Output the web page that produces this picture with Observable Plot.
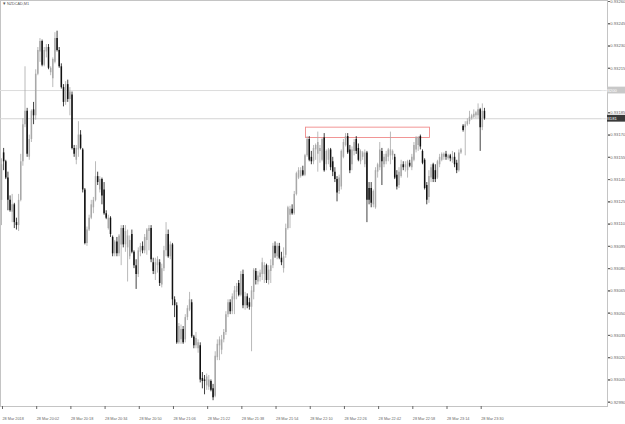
<!DOCTYPE html>
<html><head><meta charset="utf-8">
<script src="https://cdn.jsdelivr.net/npm/d3@7"></script>
<script src="https://cdn.jsdelivr.net/npm/@observablehq/plot@0.6"></script>
<style>
html,body{margin:0;padding:0;background:#fff;overflow:hidden}
#chart svg{display:block}
</style></head><body><div id="chart"></div>
<script>
const symbolTitle = "NZDCAD,M1";
const startTime = "2018-03-28T19:46:00Z"; // first M1 bar, one bar per minute
// prices in units of 0.00001
const openPts = [93126,93158,93152,93141,93126,93118,93123,93111,93109,93126,93152,93177,93186,93155,93167,93187,93183,93211,93226,93233,
93217,93226,93229,93212,93208,93219,93235,93227,93216,93202,93192,93204,93194,93197,93161,93153,93160,93170,93160,93133,
93097,93106,93114,93121,93126,93142,93133,93140,93133,93117,93107,93114,93101,93090,93098,93090,93096,93107,93096,93094,
93088,93103,93091,93082,93076,93091,93095,93092,93099,93105,93107,93084,93076,93082,93084,93069,93080,93092,93103,93088,
93096,93059,93055,93030,93032,93039,93032,93047,93052,93057,93034,93028,93026,93028,93006,93005,93001,93000,93004,92999,
92994,93020,93028,93025,93032,93037,93049,93057,93051,93059,93064,93070,93062,93076,93055,93061,93057,93054,93064,93078,
93071,93074,93076,93076,93082,93072,93078,93082,93095,93088,93095,93087,93080,93089,93107,93116,93120,93117,93130,93141,
93142,93146,93143,93156,93167,93155,93152,93160,93157,93159,93153,93168,93150,93153,93160,93152,93145,93140,93132,93135,
93155,93163,93169,93160,93150,93159,93167,93161,93152,93155,93150,93158,93134,93134,93123,93121,93145,93148,93159,93150,
93152,93155,93156,93156,93155,93143,93136,93142,93150,93148,93146,93151,93148,93153,93160,93163,93169,93159,93153,93136,
93128,93141,93150,93146,93141,93150,93153,93155,93157,93154,93156,93153,93155,93151,93146,93158,93176,93175,93177,93179,
93181,93182,93183,93183,93187,93175,93186];
const highPts = [93154,93161,93153,93145,93129,93130,93124,93114,93130,93157,93181,93216,93188,93170,93187,93192,93214,93229,93235,93234,
93229,93231,93231,93216,93222,93239,93240,93229,93218,93204,93206,93207,93202,93199,93163,93163,93179,93173,93161,93134,
93108,93116,93126,93128,93152,93145,93142,93141,93138,93119,93116,93115,93102,93099,93101,93103,93109,93109,93109,93106,
93102,93106,93092,93086,93094,93097,93098,93103,93107,93109,93109,93087,93087,93088,93086,93083,93095,93111,93106,93098,
93097,93061,93057,93043,93042,93041,93049,93055,93064,93059,93035,93037,93032,93030,93010,93008,93009,93008,93005,93002,
93024,93032,93034,93035,93039,93051,93059,93059,93063,93068,93070,93072,93078,93079,93064,93063,93060,93068,93080,93080,
93078,93079,93087,93084,93083,93082,93086,93097,93098,93097,93097,93091,93094,93110,93122,93122,93123,93132,93145,93148,
93148,93149,93157,93169,93169,93159,93163,93164,93172,93163,93168,93171,93160,93161,93161,93155,93148,93142,93143,93160,
93167,93171,93171,93163,93162,93167,93169,93164,93160,93159,93160,93159,93138,93138,93133,93148,93151,93165,93161,93157,
93159,93161,93172,93160,93157,93146,93148,93153,93152,93152,93153,93153,93157,93165,93169,93169,93170,93160,93154,93138,
93146,93150,93151,93150,93153,93157,93158,93158,93159,93157,93157,93159,93158,93153,93160,93161,93177,93179,93181,93186,
93184,93187,93186,93191,93188,93191,93188];
const lowPts = [93109,93146,93140,93119,93118,93111,93107,93106,93105,93125,93149,93175,93155,93153,93165,93177,93180,93210,93219,93216,
93216,93222,93214,93210,93202,93218,93226,93215,93201,93189,93190,93192,93183,93160,93155,93150,93155,93160,93131,93096,
93095,93105,93113,93117,93125,93136,93131,93123,93116,93113,93106,93101,93088,93088,93088,93088,93082,93094,93091,93071,
93086,93090,93080,93066,93074,93088,93090,93090,93089,93092,93084,93076,93072,93077,93068,93067,93078,93088,93087,93086,
93055,93047,93029,93029,93029,93029,93030,93045,93051,93033,93026,93026,93023,93003,92999,92995,92998,92998,92997,92991,
92993,93018,93018,93022,93030,93035,93047,93049,93049,93049,93059,93061,93061,93053,93052,93053,93052,93024,93059,93069,
93069,93071,93072,93070,93070,93069,93070,93080,93087,93086,93086,93082,93077,93087,93106,93107,93116,93116,93129,93140,
93141,93142,93142,93155,93152,93150,93150,93153,93145,93151,93152,93145,93146,93150,93146,93142,93138,93125,93130,93133,
93154,93162,93157,93144,93146,93156,93157,93152,93150,93153,93148,93111,93123,93121,93121,93120,93141,93146,93136,93148,
93150,93152,93150,93153,93140,93133,93134,93141,93146,93145,93141,93148,93146,93152,93158,93159,93160,93150,93133,93123,
93124,93138,93138,93138,93140,93148,93152,93153,93153,93153,93152,93151,93148,93144,93145,93157,93172,93156,93176,93177,
93180,93181,93181,93181,93159,93173,93180];
const closePts = [93150,93152,93141,93126,93119,93123,93111,93109,93126,93152,93177,93186,93157,93167,93186,93183,93211,93227,93233,93217,
93227,93229,93215,93215,93221,93235,93227,93216,93202,93192,93204,93194,93199,93161,93157,93161,93170,93161,93133,93097,
93106,93114,93123,93126,93142,93138,93140,93129,93117,93114,93114,93103,93090,93098,93090,93102,93107,93096,93105,93102,
93099,93091,93082,93076,93092,93095,93092,93101,93106,93107,93086,93078,93084,93086,93070,93080,93092,93103,93088,93096,
93059,93055,93030,93041,93039,93030,93047,93053,93059,93034,93028,93033,93030,93005,93004,93004,93007,93005,92998,92993,
93021,93029,93032,93032,93037,93049,93057,93051,93061,93065,93068,93062,93076,93055,93061,93055,93054,93065,93079,93072,
93075,93077,93084,93082,93072,93079,93082,93095,93090,93095,93087,93084,93088,93107,93121,93120,93117,93130,93144,93146,
93146,93143,93156,93167,93153,93152,93161,93163,93165,93161,93167,93146,93159,93160,93148,93145,93140,93131,93141,93159,
93165,93169,93158,93146,93160,93165,93159,93153,93159,93158,93158,93126,93126,93124,93132,93146,93150,93160,93152,93155,
93157,93160,93160,93159,93141,93135,93145,93150,93148,93150,93152,93149,93155,93163,93168,93168,93162,93151,93134,93126,
93142,93148,93140,93140,93152,93155,93157,93157,93155,93156,93154,93155,93150,93146,93158,93160,93173,93177,93179,93182,
93183,93184,93185,93187,93175,93186,93181];

const priceTicks = [93260,93245,93230,93215,93200,93185,93170,93155,93140,93125,93110,93095,93080,93065,93050,93035,93020,93005,92990];
const timeTickTimes = ["2018-03-28T19:46:00Z","2018-03-28T20:02:00Z","2018-03-28T20:18:00Z","2018-03-28T20:34:00Z","2018-03-28T20:50:00Z",
"2018-03-28T21:06:00Z","2018-03-28T21:22:00Z","2018-03-28T21:38:00Z","2018-03-28T21:54:00Z","2018-03-28T22:10:00Z",
"2018-03-28T22:26:00Z","2018-03-28T22:42:00Z","2018-03-28T22:58:00Z","2018-03-28T23:14:00Z","2018-03-28T23:30:00Z"];
const timeTickLabels = ["28 Mar 2018","28 Mar 20:02","28 Mar 20:18","28 Mar 20:34","28 Mar 20:50","28 Mar 21:06","28 Mar 21:22",
"28 Mar 21:38","28 Mar 21:54","28 Mar 22:10","28 Mar 22:26","28 Mar 22:42","28 Mar 22:58","28 Mar 23:14","28 Mar 23:30"];
const levelPrices = [93200];
const bidPrices = [93181];
const zoneTimes = ["2018-03-28T22:08:30Z","2018-03-28T23:06:30Z"];
const zonePrices = [93168, 93175];

const t0 = new Date(startTime).getTime();
const bars = openPts.map((o, i) => ({t: new Date(t0 + i * 60000), o, h: highPts[i], l: lowPts[i], c: closePts[i]}));
const bull = bars.filter(d => d.c >= d.o);
const bear = bars.filter(d => d.c < d.o);
const tickDates = timeTickTimes.map(s => new Date(s));
const labelMap = new Map(tickDates.map((d, i) => [+d, timeTickLabels[i]]));
const zone = [{x1: new Date(zoneTimes[0]), x2: new Date(zoneTimes[1]), y1: zonePrices[0], y2: zonePrices[1]}];
// the level line's own label replaces the regular tick text at that price
const tickTextPrices = priceTicks.filter(p => !levelPrices.includes(p));

const bullColor = "#a8a8a8", bearColor = "#111";
const fmt = d => (d / 1e5).toFixed(5);

const plot = Plot.plot({
  width: 625, height: 424,
  marginLeft: 0, marginTop: 0, marginRight: 18, marginBottom: 18,
  style: {fontFamily: "Liberation Sans, Arial, sans-serif", background: "#fff"},
  x: {type: "utc", domain: [tickDates[0], tickDates[tickDates.length - 1]], range: [1, 479.7]},
  y: {domain: [92990, 93260], range: [401.7, 1]},
  marks: [
    Plot.frame({stroke: "#c4c4c4"}),
    Plot.ruleY(levelPrices, {stroke: "#dcdcdc"}),
    Plot.ruleY(bidPrices, {stroke: "#d4d4d4"}),
    Plot.rect(zone, {x1: "x1", x2: "x2", y1: "y1", y2: "y2", fill: "none", stroke: "#f08a8a", strokeWidth: 0.9}),
    Plot.ruleX(bull, {x: "t", y1: "l", y2: "h", stroke: bullColor, strokeWidth: 0.8}),
    Plot.ruleX(bear, {x: "t", y1: "l", y2: "h", stroke: bearColor, strokeWidth: 0.8}),
    Plot.ruleX(bull, {x: "t", y1: "o", y2: "c", stroke: bullColor, strokeWidth: 1.5}),
    Plot.ruleX(bear, {x: "t", y1: "o", y2: "c", stroke: bearColor, strokeWidth: 1.5}),
    Plot.axisY(priceTicks, {anchor: "right", tickSize: 2, text: null, color: "#666"}),
    Plot.axisY(tickTextPrices, {anchor: "right", tickSize: 2, tickPadding: 0.8, tickFormat: fmt, fontSize: 4.2, color: "#666"}),
    Plot.axisX(tickDates, {anchor: "bottom", tickSize: 3, tickPadding: 8, textAnchor: "start", dx: 1, tickFormat: d => labelMap.get(+d), fontSize: 3.8, color: "#666"}),
    Plot.text([symbolTitle], {frameAnchor: "top-left", dx: 6.5, dy: 2.2, fontSize: 3.8, textAnchor: "start", lineAnchor: "top", fill: "#555"}),
    Plot.text(["\u25BE"], {frameAnchor: "top-left", dx: 2.2, dy: 1.6, fontSize: 4.5, textAnchor: "start", lineAnchor: "top", fill: "#555"})
  ]
});
document.getElementById("chart").appendChild(plot);

// price labels for the horizontal level and bid line, placed with the plot's y scale
const ys = plot.scale("y");
const svg = d3.select(plot);
const addLabel = (price, bg, fg) => {
  const y = ys.apply(price);
  const g = svg.append("g");
  g.append("rect").attr("x", 607).attr("y", y - 3.4).attr("width", 18).attr("height", 6.8).attr("fill", bg);
  g.append("text").attr("x", 609.3).attr("y", y).attr("dy", "0.35em").attr("font-size", 4.2)
    .attr("font-family", "Liberation Sans, Arial, sans-serif").attr("fill", fg).text(fmt(price));
};
levelPrices.forEach(p => addLabel(p, "#c8c8c8", "#fff"));
bidPrices.forEach(p => addLabel(p, "#3a3a3a", "#fff"));
</script></body></html>
